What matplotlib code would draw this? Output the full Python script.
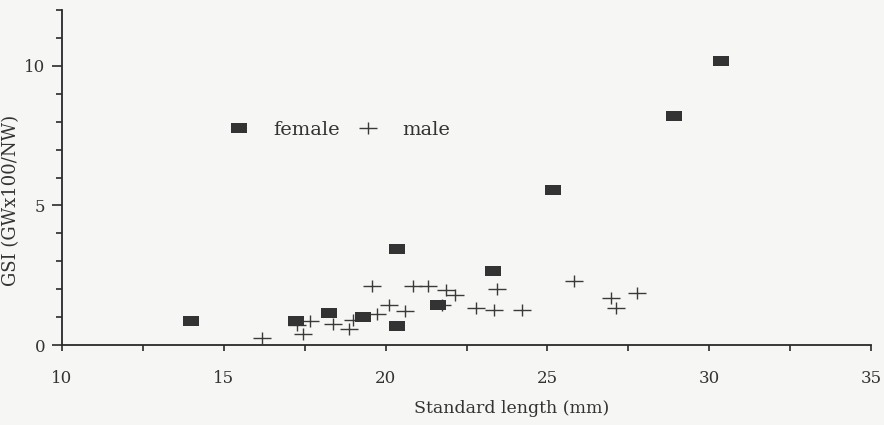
import numpy as np
import matplotlib
matplotlib.use('Agg')
import matplotlib.pyplot as plt
from matplotlib.path import Path
from matplotlib.lines import Line2D

# data
female_len = [13.98, 17.22, 18.26, 19.31, 20.34, 20.34, 21.63, 23.33, 25.16, 28.92, 30.35]
female_gsi = [0.86, 0.86, 1.15, 0.99, 3.44, 0.68, 1.45, 2.64, 5.54, 8.21, 10.17]

male_len = [16.17, 17.25, 17.44, 17.66, 18.38, 18.88, 19.00, 19.57, 19.72, 20.09,
            20.60, 20.86, 21.32, 21.75, 21.87, 22.14, 22.79, 23.35, 23.45, 24.22,
            25.82, 26.96, 27.11, 27.76]
male_gsi = [0.26, 0.72, 0.40, 0.85, 0.76, 0.58, 0.88, 2.11, 1.12, 1.45,
            1.21, 2.11, 2.11, 1.45, 1.96, 1.79, 1.33, 1.24, 1.99, 1.24,
            2.29, 1.68, 1.33, 1.86]

x_major = [10, 15, 20, 25, 30, 35]
y_major = [0, 5, 10]

ink = '#2a2a2a'
bg = '#f6f6f4'

plt.rcParams['font.family'] = ['DejaVu Serif']

# wide box and wide cross markers, like the print
box = Path([(-1.6, -1), (1.6, -1), (1.6, 1), (-1.6, 1), (-1.6, -1)],
           [Path.MOVETO, Path.LINETO, Path.LINETO, Path.LINETO, Path.CLOSEPOLY])
cross = Path([(-1.5, 0), (1.5, 0), (0, -1), (0, 1)],
             [Path.MOVETO, Path.LINETO, Path.MOVETO, Path.LINETO])

fig = plt.figure(figsize=(8.84, 4.25), dpi=100, facecolor=bg)
ax = fig.add_axes([62/884, 1 - 345/425, (871 - 62)/884, (345 - 10)/425])
ax.set_facecolor(bg)

ax.plot(male_len, male_gsi, linestyle='none', marker=cross, markersize=13,
        markeredgewidth=1.0, color='#3a3a3a')
ax.plot(female_len, female_gsi, linestyle='none', marker=box, markersize=11.5,
        markeredgewidth=0, color='#333333')

ax.set_xlim(10, 35)
ax.set_ylim(0, 12)
ax.set_xticks(x_major)
ax.set_xticks(np.arange(12.5, 35, 5), minor=True)
ax.set_yticks(y_major)
ax.set_yticks(range(0, 13), minor=True)
ax.tick_params(which='both', direction='out', length=4, width=1.2, color=ink,
               labelsize=12, labelcolor='#333333')
ax.tick_params(axis='x', pad=14)
ax.tick_params(axis='y', which='major', length=7, pad=5)

for s in ['top', 'right']:
    ax.spines[s].set_visible(False)
for s in ['left', 'bottom']:
    ax.spines[s].set_color(ink)
    ax.spines[s].set_linewidth(1.3)

ax.set_xlabel('Standard length (mm)', fontsize=12.5, color='#333333')
ax.xaxis.set_label_coords((512 - 62) / 809, -(400 - 345) / 335)
ax.set_ylabel('GSI (GWx100/NW)', fontsize=13, color='#333333')
ax.yaxis.set_label_coords(-(62 - 20) / 809, (345 - 200) / 335)

handles = [Line2D([], [], linestyle='none', marker=box, markersize=11.5,
                  markeredgewidth=0, color='#333333'),
           Line2D([], [], linestyle='none', marker=cross, markersize=13,
                  markeredgewidth=1.0, color='#3a3a3a')]
fig.legend(handles, ['female', 'male'], ncol=2, frameon=False, fontsize=14,
           loc='center left', bbox_to_anchor=(210/884, 1 - 130/425),
           borderpad=0, handlelength=2, handletextpad=0.75, columnspacing=0.45,
           labelcolor='#333333')

fig.savefig('out.png', dpi=100, facecolor=bg)
